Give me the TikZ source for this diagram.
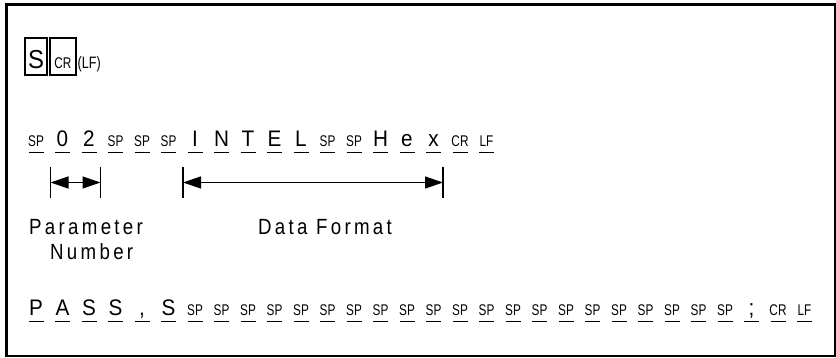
\documentclass[tikz,border=0pt]{standalone}
\usepackage{fontspec}
\setmainfont{Liberation Sans}
\newfontfamily\bigf[FakeStretch=0.92]{Liberation Sans}
\newfontfamily\smallf[FakeStretch=0.76]{Liberation Sans}
\newfontfamily\labf[FakeStretch=0.85,LetterSpace=15]{Liberation Sans}
\usetikzlibrary{arrows.meta}
\tikzset{
  bg/.style={anchor=base,inner sep=0pt,font=\bigf\fontsize{22.5}{22.5}\selectfont},
  sm/.style={anchor=base,inner sep=0pt,font=\smallf\fontsize{15.5}{15.5}\selectfont},
  lab/.style={anchor=base west,inner sep=0pt,font=\labf\fontsize{22}{22}\selectfont},
  uline/.style={line width=1.6pt},
  tickline/.style={line width=1.8pt},
  dim/.style={line width=1.3pt,{Triangle[length=18pt,width=12pt]}-{Triangle[length=18pt,width=12pt]}},
  keybox/.style={draw,line width=1.3pt,inner sep=0pt,minimum height=37pt}
}
\begin{document}
\begin{tikzpicture}[x=1pt,y=-1pt]
\useasboundingbox (0,0) rectangle (836,358);
\draw[line width=2.6pt] (6.3,4.5) rectangle (834.8,356);
% row 1
\node[keybox,minimum width=22pt] (kS) at (36,56.5) {};
\node[anchor=base,inner sep=0pt,font=\bigf\fontsize{26}{26}\selectfont] (tS) at (kS.center |- 0,68.5) {S};
\node[keybox,minimum width=26pt] (kCR) at (63,56.5) {};
\node[sm] (tCR) at (kCR.center |- 0,68.5) {CR};
\node[anchor=base west,inner sep=0pt,font=\smallf\fontsize{16.5}{16.5}\selectfont] (lf) at (77.5,68.5) {(LF)};
% row 2
\foreach \s/\t [count=\i from 0] in {sm/SP,bg/0,bg/2,sm/SP,sm/SP,sm/SP,bg/I,bg/N,bg/T,bg/E,bg/L,sm/SP,sm/SP,bg/H,bg/e,bg/x,sm/CR,sm/LF}{
  \node[\s] (a\i) at ({36+26.5*\i},146.5) {\t};
  \draw[uline] ({36+26.5*\i-7.5},152.5) -- ({36+26.5*\i+7.5},152.5);
}
% dimension lines
\coordinate (p1) at (50.5,182.5);
\coordinate (p2) at (100.5,182.5);
\coordinate (d1) at (183,182.5);
\coordinate (d2) at (443,182.5);
\foreach \c in {p1,p2,d1,d2}{
  \draw[tickline] ([yshift=15.5pt]\c) -- ([yshift=-15.5pt]\c);
}
\draw[dim] (p1) -- (p2);
\draw[dim] (d1) -- (d2);
% labels
\node[lab] (par) at (29,235) {Parameter};
\node[lab] (num) at (50,260) {Number};
\node[lab] (df) at (258,235) {Data Format};
% row 3
\foreach \s/\t [count=\i from 0] in {bg/P,bg/A,bg/S,bg/S,bg/{,},bg/S,sm/SP,sm/SP,sm/SP,sm/SP,sm/SP,sm/SP,sm/SP,sm/SP,sm/SP,sm/SP,sm/SP,sm/SP,sm/SP,sm/SP,sm/SP,sm/SP,sm/SP,sm/SP,sm/SP,sm/SP,sm/SP,bg/{;},sm/CR,sm/LF}{
  \node[\s] (b\i) at ({36+26.5*\i},315.5) {\t};
  \draw[uline] ({36+26.5*\i-7.5},321.5) -- ({36+26.5*\i+7.5},321.5);
}
\end{tikzpicture}
\end{document}
